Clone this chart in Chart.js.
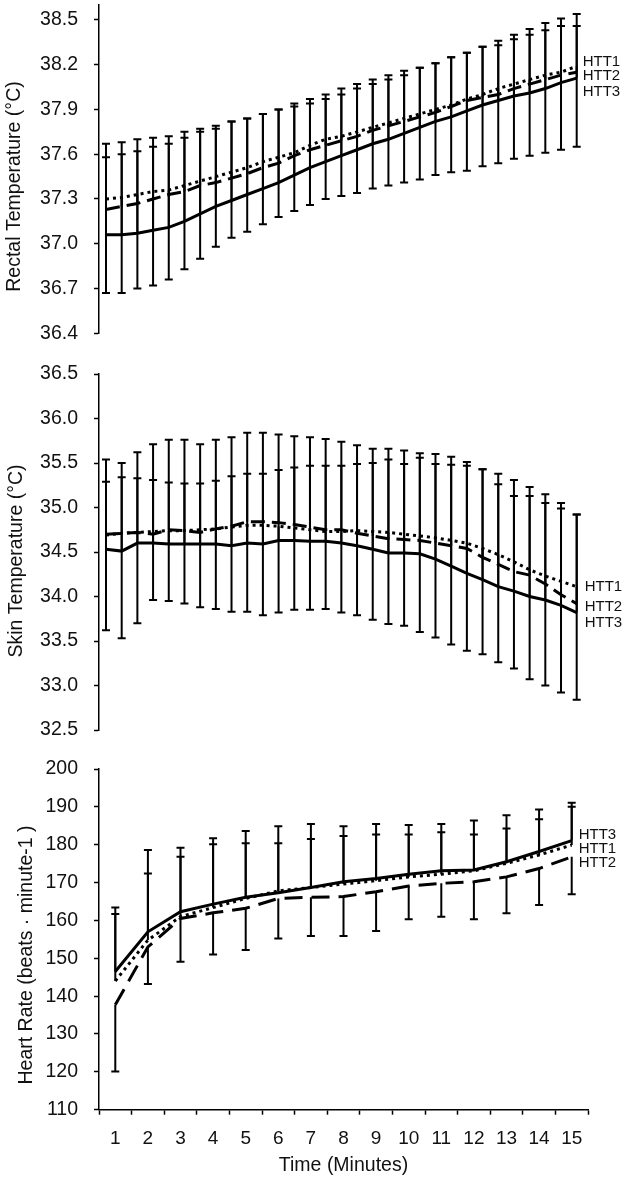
<!DOCTYPE html>
<html>
<head>
<meta charset="utf-8">
<title>HTT temperatures and heart rate</title>
<script src="https://cdn.jsdelivr.net/npm/chart.js@4.4.1/dist/chart.umd.min.js"></script>
<style>
  html, body { margin: 0; padding: 0; background: #fff; }
  #wrap { position: relative; width: 633px; height: 1181px; }
  canvas { position: absolute; left: 0; display: block; }
</style>
</head>
<body>
<div id="wrap">
  <canvas id="rectalChart" width="633" height="340" style="top:0px"></canvas>
  <canvas id="skinChart" width="633" height="400" style="top:340px"></canvas>
  <canvas id="hrChart" width="633" height="441" style="top:740px"></canvas>
</div>
<script>
// sampling times (min) for the temperature panels, every 30 s
const halfMinutes = [0, 0.5, 1, 1.5, 2, 2.5, 3, 3.5, 4, 4.5, 5, 5.5, 6, 6.5, 7, 7.5,
  8, 8.5, 9, 9.5, 10, 10.5, 11, 11.5, 12, 12.5, 13, 13.5, 14, 14.5, 15];
const minutes = ['1', '2', '3', '4', '5', '6', '7', '8', '9', '10', '11', '12', '13', '14', '15'];

// rectal temperature (°C)
const rectalHTT1 = [37.30, 37.31, 37.33, 37.35, 37.36, 37.39, 37.42, 37.45, 37.48, 37.51, 37.55, 37.58, 37.61, 37.66, 37.70, 37.72,
  37.75, 37.78, 37.81, 37.84, 37.87, 37.90, 37.93, 37.97, 38.00, 38.04, 38.07, 38.10, 38.13, 38.15, 38.19];
const rectalHTT2 = [37.23, 37.25, 37.27, 37.30, 37.33, 37.35, 37.39, 37.41, 37.44, 37.47, 37.51, 37.54, 37.59, 37.63, 37.66, 37.69,
  37.72, 37.76, 37.79, 37.82, 37.85, 37.88, 37.92, 37.96, 37.98, 38.00, 38.04, 38.07, 38.10, 38.13, 38.15];
const rectalHTT3 = [37.06, 37.06, 37.07, 37.09, 37.11, 37.15, 37.20, 37.25, 37.29, 37.33, 37.37, 37.41, 37.46, 37.51, 37.55, 37.59,
  37.63, 37.67, 37.70, 37.74, 37.78, 37.82, 37.85, 37.89, 37.93, 37.96, 37.99, 38.01, 38.04, 38.08, 38.11];
const rectalSD1 = [0.63, 0.64, 0.63, 0.63, 0.60, 0.56, 0.52, 0.47, 0.44, 0.43, 0.42, 0.40, 0.39, 0.40, 0.40, 0.40,
  0.41, 0.41, 0.42, 0.43, 0.44, 0.44, 0.45, 0.48, 0.48, 0.50, 0.50, 0.51, 0.52, 0.52, 0.54];
const rectalSD2 = [0.44, 0.43, 0.43, 0.41, 0.39, 0.40, 0.38, 0.38, 0.38, 0.37, 0.36, 0.36, 0.35, 0.34, 0.34, 0.35,
  0.35, 0.34, 0.34, 0.34, 0.33, 0.33, 0.33, 0.32, 0.34, 0.36, 0.36, 0.37, 0.38, 0.38, 0.39];
const rectalSD3 = [0.52, 0.54, 0.55, 0.56, 0.56, 0.56, 0.55, 0.52, 0.53, 0.51, 0.50, 0.49, 0.46, 0.43, 0.42, 0.41,
  0.41, 0.40, 0.40, 0.39, 0.40, 0.39, 0.40, 0.39, 0.39, 0.37, 0.38, 0.39, 0.39, 0.38, 0.35];
const rectalTicks = [36.4, 36.7, 37.0, 37.3, 37.6, 37.9, 38.2, 38.5];

// skin temperature (°C)
const skinHTT1 = [34.69, 34.71, 34.72, 34.73, 34.74, 34.74, 34.75, 34.76, 34.78, 34.80, 34.80, 34.79, 34.77, 34.75, 34.73, 34.73,
  34.74, 34.73, 34.72, 34.70, 34.68, 34.66, 34.63, 34.60, 34.54, 34.47, 34.39, 34.30, 34.23, 34.17, 34.11];
const skinHTT2 = [34.70, 34.71, 34.72, 34.70, 34.75, 34.74, 34.72, 34.76, 34.79, 34.84, 34.84, 34.83, 34.81, 34.78, 34.75, 34.75,
  34.71, 34.68, 34.65, 34.64, 34.63, 34.60, 34.57, 34.54, 34.44, 34.36, 34.28, 34.24, 34.14, 34.02, 33.92];
const skinHTT3 = [34.53, 34.51, 34.60, 34.60, 34.59, 34.59, 34.59, 34.59, 34.57, 34.60, 34.59, 34.63, 34.63, 34.62, 34.62, 34.60,
  34.57, 34.53, 34.49, 34.49, 34.48, 34.42, 34.34, 34.26, 34.19, 34.11, 34.06, 34.00, 33.96, 33.90, 33.82];
const skinSD1 = [1.07, 1.18, 1.02, 0.77, 0.79, 0.82, 0.87, 0.90, 0.95, 0.97, 1.01, 0.97, 0.92, 0.90, 0.87, 0.91,
  0.95, 0.99, 1.03, 1.03, 1.08, 1.12, 1.17, 1.21, 1.19, 1.21, 1.20, 1.23, 1.23, 1.25, 1.27];
const skinSD2 = [0.84, 0.79, 0.90, 1.01, 1.01, 1.02, 0.99, 1.00, 1.00, 1.00, 1.00, 0.99, 0.99, 1.01, 1.02, 0.99,
  0.99, 0.98, 1.01, 1.00, 0.98, 1.00, 1.00, 0.97, 0.99, 1.02, 1.03, 0.99, 1.01, 1.03, 1.00];
const skinSD3 = [0.76, 0.83, 0.73, 0.71, 0.69, 0.68, 0.68, 0.71, 0.78, 0.78, 0.79, 0.79, 0.82, 0.85, 0.85, 0.87,
  0.92, 0.97, 1.05, 1.00, 1.08, 1.07, 1.14, 1.21, 1.24, 1.15, 1.07, 1.13, 1.09, 1.09, 1.10];
const skinTicks = [32.5, 33.0, 33.5, 34.0, 34.5, 35.0, 35.5, 36.0, 36.5];

// heart rate (beats per minute)
const hrHTT1 = [144.0, 154.8, 161.0, 163.4, 165.8, 167.8, 168.7, 169.6, 170.5, 171.5, 172.2, 173.1, 175.1, 177.3, 179.9];
const hrHTT2 = [137.7, 153.0, 160.5, 162.0, 163.2, 165.8, 166.1, 166.3, 167.6, 169.1, 169.8, 170.2, 171.5, 173.7, 176.8];
const hrHTT3 = [146.5, 157.0, 162.3, 164.3, 166.1, 167.3, 168.7, 170.2, 171.1, 172.2, 173.1, 173.3, 175.5, 178.2, 181.1];
const hrSD1 = [17.7, 17.6, 15.8, 16.7, 14.6, 12.6, 12.8, 12.7, 12.2, 11.2, 11.1, 9.6, 9.2, 9.4, 10.1];
const hrSD2 = [17.6, 9.8, 11.4, 11.0, 11.0, 10.6, 10.2, 10.4, 10.4, 8.8, 8.8, 9.9, 9.6, 9.6, 9.9];
const hrSD3 = [16.9, 21.6, 16.9, 17.4, 17.5, 17.6, 16.8, 14.7, 14.4, 13.0, 12.4, 13.1, 12.3, 11.1, 10.0];
const hrTicks = [110, 120, 130, 140, 150, 160, 170, 180, 190, 200];

const FONT = '"Liberation Sans", Arial, Helvetica, sans-serif';
const INK = '#111';
Chart.defaults.font.family = FONT;
Chart.defaults.color = INK;

// one-sided SD bars: errDir +1 draws up from the mean, -1 draws down
const errorBars = {
  id: 'errorBars',
  afterDatasetsDraw(chart) {
    const ctx = chart.ctx;
    const y = chart.scales.y;
    chart.data.datasets.forEach((ds, i) => {
      const pts = chart.getDatasetMeta(i).data;
      ctx.save();
      ctx.strokeStyle = '#000';
      ctx.lineWidth = 2;
      pts.forEach((pt, j) => {
        const y0 = y.getPixelForValue(ds.data[j]);
        const y1 = y.getPixelForValue(ds.data[j] + ds.errDir * ds.sd[j]);
        ctx.beginPath();
        ctx.moveTo(pt.x, y0);
        ctx.lineTo(pt.x, y1);
        ctx.moveTo(pt.x - 4, y1);
        ctx.lineTo(pt.x + 4, y1);
        ctx.stroke();
      });
      ctx.restore();
    });
  }
};

// series names written next to the line ends
const seriesLabels = {
  id: 'seriesLabels',
  afterDatasetsDraw(chart, args, opts) {
    const ctx = chart.ctx;
    ctx.save();
    ctx.font = '15px ' + FONT;
    ctx.fillStyle = INK;
    ctx.textBaseline = 'middle';
    chart.data.datasets.forEach((ds, i) => {
      const pts = chart.getDatasetMeta(i).data;
      const last = pts[pts.length - 1];
      ctx.fillText(ds.label, last.x + opts.dx, last.y + ds.labelDy);
    });
    ctx.restore();
  }
};

// rotated y title, placed by hand like in the paper figure
const sideTitle = {
  id: 'sideTitle',
  afterDraw(chart, args, opts) {
    const ctx = chart.ctx;
    ctx.save();
    ctx.translate(opts.x, opts.y);
    ctx.rotate(-Math.PI / 2);
    ctx.font = '19.5px ' + FONT;
    ctx.fillStyle = INK;
    ctx.textAlign = 'center';
    ctx.textBaseline = 'middle';
    ctx.fillText(opts.text, 0, 0);
    ctx.restore();
  }
};

function series(label, data, sd, errDir, dash, labelDy) {
  return {
    label: label,
    data: data,
    sd: sd,
    errDir: errDir,
    labelDy: labelDy,
    borderColor: '#000',
    borderWidth: 3,
    borderDash: dash,
    borderCapStyle: 'butt',
    pointRadius: 0,
    tension: 0,
    fill: false
  };
}

function yAxis(min, max, tickValues, decimals) {
  return {
    min: min,
    max: max,
    afterBuildTicks: (s) => { s.ticks = tickValues.map((v) => ({ value: v })); },
    afterFit: (s) => { s.width = 99; s.paddingTop = 0; s.paddingBottom = 0; },
    border: { display: true, color: '#000', width: 1.5 },
    grid: { drawOnChartArea: false, drawTicks: true, tickLength: 5, tickColor: '#000', tickWidth: 1.5 },
    ticks: {
      padding: 16,
      color: INK,
      font: { size: 19.5 },
      callback: (v) => Number(v).toFixed(decimals)
    }
  };
}

const tempX = { type: 'linear', min: -0.223, max: 15.36, display: false };

function panelOptions(x, y, padding, title, labelDx) {
  return {
    responsive: false,
    animation: false,
    events: [],
    layout: { padding: padding },
    plugins: {
      legend: { display: false },
      tooltip: { enabled: false },
      sideTitle: title,
      seriesLabels: { dx: labelDx }
    },
    scales: { x: x, y: y }
  };
}

const DOT = [3, 4];
const DASH = [14, 7];

new Chart(document.getElementById('rectalChart'), {
  type: 'line',
  data: {
    labels: halfMinutes,
    datasets: [
      series('HTT1', rectalHTT1, rectalSD1, -1, DOT, -4.5),
      series('HTT2', rectalHTT2, rectalSD2, 1, DASH, 4),
      series('HTT3', rectalHTT3, rectalSD3, 1, [], 13.5)
    ]
  },
  options: panelOptions(tempX, yAxis(36.4, 38.6, rectalTicks, 1),
    { top: 5, right: 45, bottom: 6.7, left: 0 },
    { text: 'Rectal Temperature (°C)', x: 14.7, y: 186.5 }, 6),
  plugins: [errorBars, seriesLabels, sideTitle]
});

new Chart(document.getElementById('skinChart'), {
  type: 'line',
  data: {
    labels: halfMinutes,
    datasets: [
      series('HTT1', skinHTT1, skinSD1, -1, DOT, 0),
      series('HTT2', skinHTT2, skinSD2, 1, DASH, 3),
      series('HTT3', skinHTT3, skinSD3, 1, [], 10)
    ]
  },
  options: panelOptions(tempX, yAxis(32.5, 36.5, skinTicks, 1),
    { top: 34, right: 45, bottom: 10, left: 0 },
    { text: 'Skin Temperature (°C)', x: 17, y: 221 }, 8),
  plugins: [errorBars, seriesLabels, sideTitle]
});

new Chart(document.getElementById('hrChart'), {
  type: 'line',
  data: {
    labels: minutes,
    datasets: [
      series('HTT1', hrHTT1, hrSD1, 1, DOT, 4.2),
      series('HTT2', hrHTT2, hrSD2, -1, [18, 9], 5.8),
      series('HTT3', hrHTT3, hrSD3, 1, [], -5.6)
    ]
  },
  options: panelOptions({
      type: 'category',
      offset: true,
      afterFit: (s) => { s.height = 71.3; s.paddingLeft = 0; s.paddingRight = 0; },
      border: { display: true, color: '#000', width: 1.5 },
      grid: { offset: true, drawOnChartArea: false, tickLength: 5, tickColor: '#000', tickWidth: 1.5 },
      ticks: { padding: 13, color: INK, font: { size: 19 }, maxRotation: 0, autoSkip: false },
      title: { display: true, text: 'Time (Minutes)', color: INK, font: { size: 19.5 }, padding: { top: 0, bottom: 4 } }
    },
    yAxis(110, 200, hrTicks, 0),
    { top: 29, right: 45, bottom: 0, left: 0 },
    { text: 'Heart Rate (beats · minute-1 )', x: 26.7, y: 215 }, 7),
  plugins: [errorBars, seriesLabels, sideTitle]
});
</script>
</body>
</html>
